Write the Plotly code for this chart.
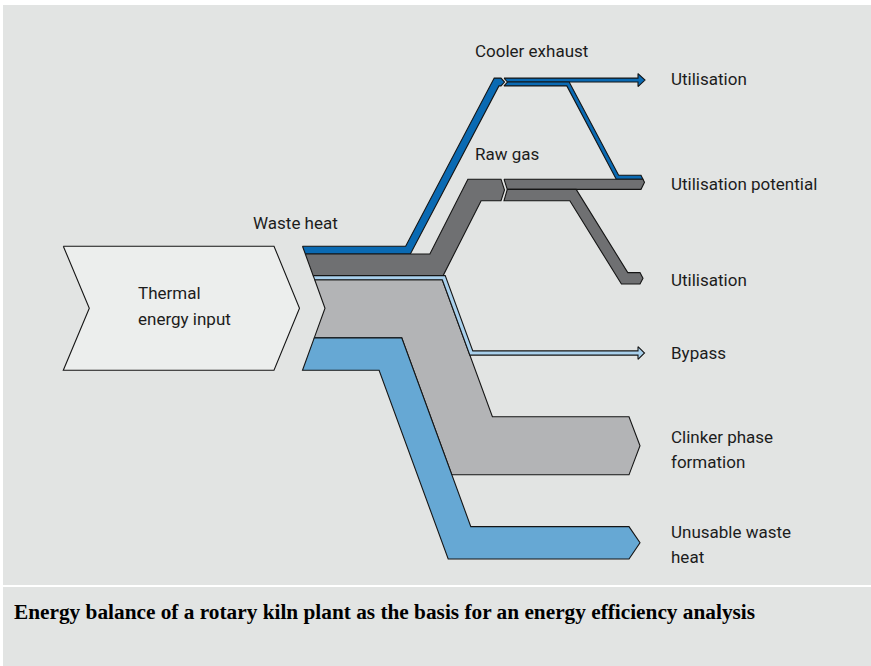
import math
import plotly.graph_objects as go

# ---------------- data (% of thermal energy input) ----------------
flow_labels = ["Cooler exhaust", "Raw gas", "Bypass", "Clinker phase formation", "Unusable waste heat"]
flow_values = [6.3, 17.4, 3.4, 46.8, 26.1]
cooler_split_labels = ["Utilisation", "Utilisation potential"]
cooler_split_values = [3.15, 3.15]
raw_gas_split_labels = ["Utilisation potential", "Utilisation"]
raw_gas_split_values = [8.2, 9.2]
input_label_lines = ["Thermal", "energy input"]
caption = "Energy balance of a rotary kiln plant as the basis for an energy efficiency analysis"

# ---------------- layout / geometry constants ----------------
W, H = 871, 666
SCALE = 1.24           # px per % of input
STACK_TOP = 246.2
STACK_X = 302.5        # left edge of the flow bundle
NOTCH = 22.5           # depth of the bundle's notch
INPUT_X0, INPUT_X1 = 63.3, 274.0
INPUT_TIP, INPUT_NOTCH = 25.5, 26.0
CUT_END_X, CUT_START_X, CUT_DEPTH = 501.0, 504.0, 3.5
COOLER_TOP_Y = 78.1      # top of cooler-exhaust row
RAW_TOP_Y = 179.2        # top of raw-gas row
POTENTIAL_TOP_Y = 175.3  # top of "Utilisation potential" bar
RAW_UTIL_Y = 278.3       # centre of raw-gas "Utilisation" bar
BYPASS_Y = 353.0
CLINKER_Y = 445.8
UNUSABLE_Y = 542.8
BUNDLE_SLOPE = 0.366   # dx per dy of the descending bundle
ARROW_END_X = 638.0
RIGHT_END_X = 641.0
BIG_END_X = 629.0

COL = dict(
    bg="#e2e4e3",
    input="#eceeed",
    cooler="#0a6ab3",
    raw="#6f7072",
    bypass="#a9d0ec",
    clinker="#b3b4b6",
    unusable="#66a8d4",
    edge="#151515",
)


def chevron(xb, ytop, ybot, depth):
    return dict(kind="chev", xb=xb, ytop=ytop, ybot=ybot, depth=depth)


def arrow(xs, half, length):
    return dict(kind="arrow", xs=xs, half=half, length=length)


def cap_x(c, y):
    ymid = (c["ytop"] + c["ybot"]) / 2
    half = (c["ybot"] - c["ytop"]) / 2
    return c["xb"] + c["depth"] * (1 - abs(y - ymid) / half)


def ribbon(pts, w, start_cap, end_cap):
    n = len(pts)
    dirs = []
    for i in range(n - 1):
        dx = pts[i + 1][0] - pts[i][0]
        dy = pts[i + 1][1] - pts[i][1]
        L = math.hypot(dx, dy)
        dirs.append((dx / L, dy / L))
    norms = [(d[1], -d[0]) for d in dirs]
    h = w / 2
    top, bot = [], []
    nx, ny = norms[0]
    top.append([pts[0][0] + nx * h, pts[0][1] + ny * h])
    bot.append([pts[0][0] - nx * h, pts[0][1] - ny * h])
    for i in range(1, n - 1):
        n1, n2 = norms[i - 1], norms[i]
        mx, my = n1[0] + n2[0], n1[1] + n2[1]
        L = math.hypot(mx, my)
        mx, my = mx / L, my / L
        k = h / (mx * n1[0] + my * n1[1])
        top.append([pts[i][0] + mx * k, pts[i][1] + my * k])
        bot.append([pts[i][0] - mx * k, pts[i][1] - my * k])
    nx, ny = norms[-1]
    top.append([pts[-1][0] + nx * h, pts[-1][1] + ny * h])
    bot.append([pts[-1][0] - nx * h, pts[-1][1] - ny * h])

    start_extra, end_extra = [], []
    if start_cap:
        top[0][0] = cap_x(start_cap, top[0][1])
        bot[0][0] = cap_x(start_cap, bot[0][1])
        ymid = (start_cap["ytop"] + start_cap["ybot"]) / 2
        if top[0][1] + 0.01 < ymid < bot[0][1] - 0.01:
            start_extra = [[start_cap["xb"] + start_cap["depth"], ymid]]
    if end_cap and end_cap["kind"] == "chev":
        top[-1][0] = cap_x(end_cap, top[-1][1])
        bot[-1][0] = cap_x(end_cap, bot[-1][1])
        ymid = (end_cap["ytop"] + end_cap["ybot"]) / 2
        if top[-1][1] + 0.01 < ymid < bot[-1][1] - 0.01:
            end_extra = [[end_cap["xb"] + end_cap["depth"], ymid]]
    elif end_cap and end_cap["kind"] == "arrow":
        xs = end_cap["xs"]
        yc = pts[-1][1]
        top[-1][0] = xs
        bot[-1][0] = xs
        end_extra = [[xs, yc - end_cap["half"]], [xs + end_cap["length"], yc],
                     [xs, yc + end_cap["half"]]]
    poly = top + end_extra + bot[::-1] + start_extra
    return poly


def route(x0, y0, bend_x, target_y, slope, end_x):
    bend2 = bend_x + abs(target_y - y0) * slope
    return [(x0, y0), (bend_x, y0), (bend2, target_y), (end_x, target_y)]


def miter_ratio(slope):
    # x shift per unit y of the bisector for a horizontal -> descending turn
    L = math.hypot(slope, 1)
    d = (slope / L, 1 / L)
    n2 = (d[1], -d[0])
    mx, my = n2[0], n2[1] - 1
    return mx / my


# ---------------- stack on the left ----------------
widths = [v * SCALE for v in flow_values]
tops = []
acc = STACK_TOP
for w in widths:
    tops.append(acc)
    acc += w
STACK_BOT = acc
centers = [t + w / 2 for t, w in zip(tops, widths)]
bundle_cap = chevron(STACK_X, STACK_TOP, STACK_BOT, NOTCH)

w_cool, w_raw, w_byp, w_clk, w_unu = widths
c_cool, c_raw, c_byp, c_clk, c_unu = centers

shapes_polys = []

# input arrow
ymid_in = (STACK_TOP + STACK_BOT) / 2
input_poly = [[INPUT_X0, STACK_TOP], [INPUT_X1, STACK_TOP], [INPUT_X1 + INPUT_TIP, ymid_in],
              [INPUT_X1, STACK_BOT], [INPUT_X0, STACK_BOT], [INPUT_X0 + INPUT_NOTCH, ymid_in]]
shapes_polys.append((input_poly, COL["input"]))

# cooler exhaust (up to the top row)
cool_row_c = COOLER_TOP_Y + w_cool / 2
shapes_polys.append((ribbon(route(STACK_X, c_cool, 408.0, cool_row_c, 0.527, CUT_END_X), w_cool,
                            bundle_cap, chevron(CUT_END_X, COOLER_TOP_Y, COOLER_TOP_Y + w_cool, CUT_DEPTH)),
                     COL["cooler"]))
# raw gas (up)
raw_row_c = RAW_TOP_Y + w_raw / 2
shapes_polys.append((ribbon(route(STACK_X, c_raw, 436.5, raw_row_c, 0.508, CUT_END_X), w_raw,
                            bundle_cap, chevron(CUT_END_X, RAW_TOP_Y, RAW_TOP_Y + w_raw, CUT_DEPTH)),
                     COL["raw"]))

# descending bundle: clinker, bypass, unusable share the bend bisector
ratio = miter_ratio(BUNDLE_SLOPE)
clk_bend = 422.0
byp_bend = clk_bend + (c_byp - c_clk) * ratio
unu_bend = clk_bend + (c_unu - c_clk) * ratio

shapes_polys.append((ribbon(route(STACK_X, c_clk, clk_bend, CLINKER_Y, BUNDLE_SLOPE, BIG_END_X), w_clk,
                            bundle_cap, chevron(BIG_END_X, CLINKER_Y - w_clk / 2, CLINKER_Y + w_clk / 2, 11)),
                     COL["clinker"]))
shapes_polys.append((ribbon(route(STACK_X, c_unu, unu_bend, UNUSABLE_Y, BUNDLE_SLOPE, BIG_END_X), w_unu,
                            bundle_cap, chevron(BIG_END_X, UNUSABLE_Y - w_unu / 2, UNUSABLE_Y + w_unu / 2, 11)),
                     COL["unusable"]))
shapes_polys.append((ribbon(route(STACK_X, c_byp, byp_bend, BYPASS_Y, BUNDLE_SLOPE, ARROW_END_X), w_byp,
                            bundle_cap, arrow(ARROW_END_X, 6.3, 6.5)),
                     COL["bypass"]))

# continuation of cooler exhaust
w_cu, w_cp = [v * SCALE for v in cooler_split_values]
cool_cut = chevron(CUT_START_X, COOLER_TOP_Y, COOLER_TOP_Y + w_cool, CUT_DEPTH)
w_rp, w_ru = [v * SCALE for v in raw_gas_split_values]
pot_cap = chevron(RIGHT_END_X, POTENTIAL_TOP_Y, POTENTIAL_TOP_Y + w_cp + w_rp, 3.5)
cu_c = COOLER_TOP_Y + w_cu / 2
shapes_polys.append((ribbon([(CUT_START_X, cu_c), (ARROW_END_X, cu_c)], w_cu, cool_cut,
                            arrow(ARROW_END_X, 6.5, 7.0)), COL["cooler"]))
cp_c = COOLER_TOP_Y + w_cu + w_cp / 2
shapes_polys.append((ribbon(route(CUT_START_X, cp_c, 568.0, POTENTIAL_TOP_Y + w_cp / 2, 0.53, RIGHT_END_X),
                            w_cp, cool_cut, pot_cap), COL["cooler"]))

# continuation of raw gas
raw_cut = chevron(CUT_START_X, RAW_TOP_Y, RAW_TOP_Y + w_raw, CUT_DEPTH)
rp_c = RAW_TOP_Y + w_rp / 2
shapes_polys.append((ribbon([(CUT_START_X, rp_c), (RIGHT_END_X, rp_c)], w_rp, raw_cut, pot_cap), COL["raw"]))
ru_c = RAW_TOP_Y + w_rp + w_ru / 2
shapes_polys.append((ribbon(route(CUT_START_X, ru_c, 573.0, RAW_UTIL_Y, 0.62, RIGHT_END_X - 1), w_ru, raw_cut,
                            chevron(RIGHT_END_X - 1, RAW_UTIL_Y - w_ru / 2, RAW_UTIL_Y + w_ru / 2, 3.0)),
                     COL["raw"]))

fig = go.Figure()
for poly, color in shapes_polys:
    xs = [p[0] for p in poly] + [poly[0][0]]
    ys = [p[1] for p in poly] + [poly[0][1]]
    fig.add_trace(go.Scatter(x=xs, y=ys, mode="lines", fill="toself", fillcolor=color,
                             line=dict(color=COL["edge"], width=1.1), hoverinfo="skip",
                             showlegend=False))

LABEL_FONT = dict(family="Roboto, sans-serif", size=17, color="#1c1c1c")
labels = [
    (flow_labels[0], 473, 51),
    (cooler_split_labels[0], 669, 79),
    (flow_labels[1], 473, 154),
    (cooler_split_labels[1], 669, 184),
    ("Waste heat", 251, 223),
    (raw_gas_split_labels[1], 669, 280),
    (input_label_lines[0], 136, 293),
    (input_label_lines[1], 136, 319),
    (flow_labels[2], 669, 353),
    ("Clinker phase", 669, 437),
    ("formation", 669, 462),
    ("Unusable waste", 669, 532),
    ("heat", 669, 557),
]
annotations = [dict(text=t, x=x, y=y, xref="x", yref="y", xanchor="left", yanchor="middle",
                    showarrow=False, font=LABEL_FONT) for t, x, y in labels]
annotations.append(dict(text="<b>" + caption + "</b>", x=12, y=612, xref="x", yref="y",
                        xanchor="left", yanchor="middle", showarrow=False,
                        font=dict(family="Liberation Serif, serif", size=21.3, color="#000000")))

fig.update_layout(
    width=W, height=H, margin=dict(l=0, r=0, t=0, b=0),
    paper_bgcolor="white", plot_bgcolor="white",
    xaxis=dict(range=[0, W], visible=False, fixedrange=True),
    yaxis=dict(range=[H, 0], visible=False, fixedrange=True),
    shapes=[
        dict(type="rect", xref="x", yref="y", x0=3, y0=5, x1=W, y1=585, fillcolor=COL["bg"],
             line=dict(width=0), layer="below"),
        dict(type="rect", xref="x", yref="y", x0=3, y0=587, x1=W, y1=H, fillcolor=COL["bg"],
             line=dict(width=0), layer="below"),
    ],
    annotations=annotations,
)

fig.write_html("out.html", config={"displayModeBar": False},
               post_script="document.body.style.margin='0';document.body.style.overflow='hidden';")
